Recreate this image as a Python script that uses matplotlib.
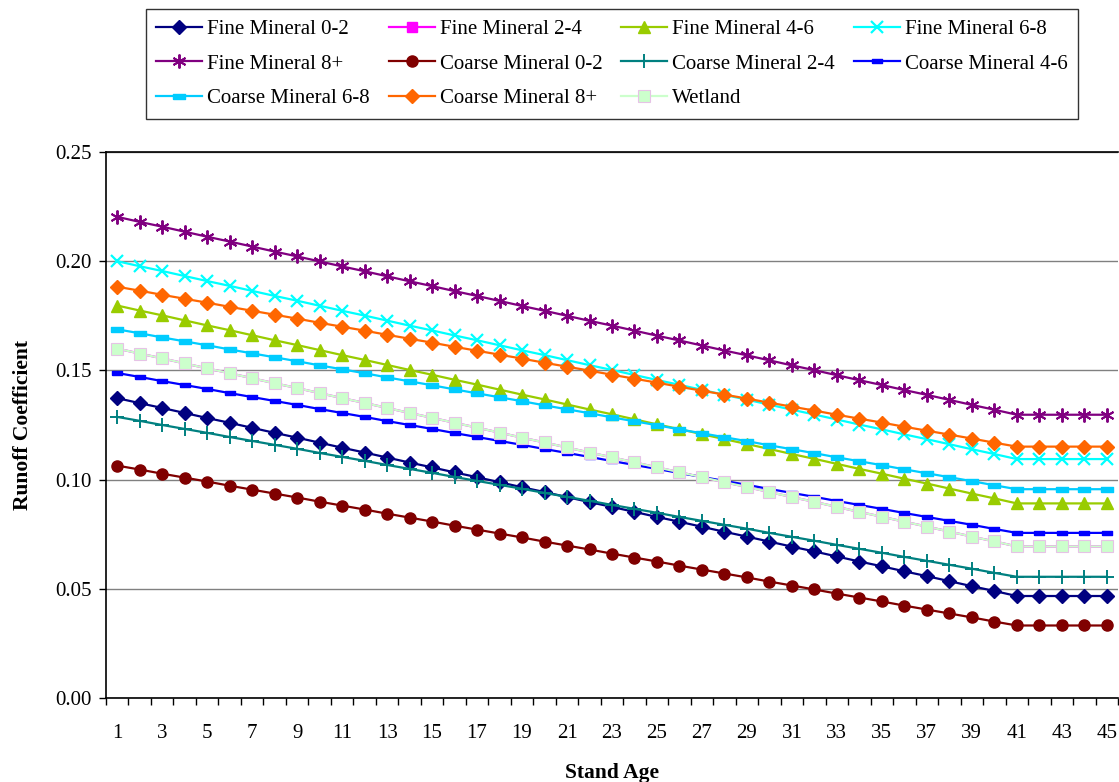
"""
Runoff coefficient by stand age, fine / coarse mineral and wetland soils.
"""

import numpy as np
import matplotlib
matplotlib.use("Agg")
import matplotlib.pyplot as plt


# ==========================================================
# DATA
# ==========================================================

stand_age = list(range(1, 46))

fine_0_2 = [
    0.1373, 0.1350, 0.1328, 0.1305, 0.1282, 0.1260, 0.1237, 0.1214, 0.1192, 0.1169,
    0.1146, 0.1124, 0.1101, 0.1078, 0.1056, 0.1033, 0.1011, 0.0988, 0.0965, 0.0943,
    0.0920, 0.0897, 0.0875, 0.0852, 0.0829, 0.0807, 0.0784, 0.0761, 0.0739, 0.0716,
    0.0693, 0.0671, 0.0648, 0.0625, 0.0603, 0.0580, 0.0558, 0.0535, 0.0512, 0.0490,
    0.0467, 0.0467, 0.0467, 0.0467, 0.0467,
]

fine_2_4 = [
    0.1600, 0.1577, 0.1555, 0.1532, 0.1509, 0.1487, 0.1464, 0.1441, 0.1419, 0.1396,
    0.1373, 0.1351, 0.1328, 0.1305, 0.1283, 0.1260, 0.1238, 0.1215, 0.1192, 0.1170,
    0.1147, 0.1124, 0.1102, 0.1079, 0.1056, 0.1034, 0.1011, 0.0988, 0.0966, 0.0943,
    0.0920, 0.0898, 0.0875, 0.0852, 0.0830, 0.0807, 0.0785, 0.0762, 0.0739, 0.0717,
    0.0694, 0.0694, 0.0694, 0.0694, 0.0694,
]

fine_4_6 = [
    0.1797, 0.1774, 0.1752, 0.1729, 0.1706, 0.1684, 0.1661, 0.1638, 0.1616, 0.1593,
    0.1570, 0.1548, 0.1525, 0.1502, 0.1480, 0.1457, 0.1435, 0.1412, 0.1389, 0.1367,
    0.1344, 0.1321, 0.1299, 0.1276, 0.1253, 0.1231, 0.1208, 0.1185, 0.1163, 0.1140,
    0.1117, 0.1095, 0.1072, 0.1049, 0.1027, 0.1004, 0.0982, 0.0959, 0.0936, 0.0914,
    0.0891, 0.0891, 0.0891, 0.0891, 0.0891,
]

fine_6_8 = [
    0.2000, 0.1977, 0.1955, 0.1932, 0.1909, 0.1887, 0.1864, 0.1841, 0.1819, 0.1796,
    0.1773, 0.1751, 0.1728, 0.1705, 0.1683, 0.1660, 0.1638, 0.1615, 0.1592, 0.1570,
    0.1547, 0.1524, 0.1502, 0.1479, 0.1456, 0.1434, 0.1411, 0.1388, 0.1366, 0.1343,
    0.1320, 0.1298, 0.1275, 0.1252, 0.1230, 0.1207, 0.1185, 0.1162, 0.1139, 0.1117,
    0.1094, 0.1094, 0.1094, 0.1094, 0.1094,
]

fine_8_plus = [
    0.2203, 0.2180, 0.2158, 0.2135, 0.2112, 0.2090, 0.2067, 0.2044, 0.2022, 0.1999,
    0.1976, 0.1954, 0.1931, 0.1908, 0.1886, 0.1863, 0.1841, 0.1818, 0.1795, 0.1773,
    0.1750, 0.1727, 0.1705, 0.1682, 0.1659, 0.1637, 0.1614, 0.1591, 0.1569, 0.1546,
    0.1523, 0.1501, 0.1478, 0.1455, 0.1433, 0.1410, 0.1388, 0.1365, 0.1342, 0.1320,
    0.1297, 0.1297, 0.1297, 0.1297, 0.1297,
]

coarse_0_2 = [
    0.1064, 0.1046, 0.1027, 0.1009, 0.0991, 0.0972, 0.0954, 0.0936, 0.0918, 0.0899,
    0.0881, 0.0863, 0.0844, 0.0826, 0.0808, 0.0789, 0.0771, 0.0753, 0.0735, 0.0716,
    0.0698, 0.0680, 0.0661, 0.0643, 0.0625, 0.0606, 0.0588, 0.0570, 0.0552, 0.0533,
    0.0515, 0.0497, 0.0478, 0.0460, 0.0442, 0.0423, 0.0405, 0.0387, 0.0369, 0.0350,
    0.0332, 0.0332, 0.0332, 0.0332, 0.0332,
]

coarse_2_4 = [
    0.1287, 0.1269, 0.1250, 0.1232, 0.1214, 0.1195, 0.1177, 0.1159, 0.1141, 0.1122,
    0.1104, 0.1086, 0.1067, 0.1049, 0.1031, 0.1012, 0.0994, 0.0976, 0.0958, 0.0939,
    0.0921, 0.0903, 0.0884, 0.0866, 0.0848, 0.0829, 0.0811, 0.0793, 0.0775, 0.0756,
    0.0738, 0.0720, 0.0701, 0.0683, 0.0665, 0.0646, 0.0628, 0.0610, 0.0592, 0.0573,
    0.0555, 0.0555, 0.0555, 0.0555, 0.0555,
]

coarse_4_6 = [
    0.1488, 0.1470, 0.1451, 0.1433, 0.1415, 0.1396, 0.1378, 0.1360, 0.1342, 0.1323,
    0.1305, 0.1287, 0.1268, 0.1250, 0.1232, 0.1213, 0.1195, 0.1177, 0.1159, 0.1140,
    0.1122, 0.1104, 0.1085, 0.1067, 0.1049, 0.1030, 0.1012, 0.0994, 0.0976, 0.0957,
    0.0939, 0.0921, 0.0902, 0.0884, 0.0866, 0.0847, 0.0829, 0.0811, 0.0793, 0.0774,
    0.0756, 0.0756, 0.0756, 0.0756, 0.0756,
]

coarse_6_8 = [
    0.1688, 0.1670, 0.1651, 0.1633, 0.1615, 0.1596, 0.1578, 0.1560, 0.1542, 0.1523,
    0.1505, 0.1487, 0.1468, 0.1450, 0.1432, 0.1413, 0.1395, 0.1377, 0.1359, 0.1340,
    0.1322, 0.1304, 0.1285, 0.1267, 0.1249, 0.1230, 0.1212, 0.1194, 0.1176, 0.1157,
    0.1139, 0.1121, 0.1102, 0.1084, 0.1066, 0.1047, 0.1029, 0.1011, 0.0993, 0.0974,
    0.0956, 0.0956, 0.0956, 0.0956, 0.0956,
]

coarse_8_plus = [
    0.1883, 0.1865, 0.1846, 0.1828, 0.1810, 0.1791, 0.1773, 0.1755, 0.1737, 0.1718,
    0.1700, 0.1682, 0.1663, 0.1645, 0.1627, 0.1608, 0.1590, 0.1572, 0.1554, 0.1535,
    0.1517, 0.1499, 0.1480, 0.1462, 0.1444, 0.1425, 0.1407, 0.1389, 0.1371, 0.1352,
    0.1334, 0.1316, 0.1297, 0.1279, 0.1261, 0.1242, 0.1224, 0.1206, 0.1188, 0.1169,
    0.1151, 0.1151, 0.1151, 0.1151, 0.1151,
]

wetland = [
    0.1600, 0.1577, 0.1555, 0.1532, 0.1509, 0.1487, 0.1464, 0.1441, 0.1419, 0.1396,
    0.1373, 0.1351, 0.1328, 0.1305, 0.1283, 0.1260, 0.1238, 0.1215, 0.1192, 0.1170,
    0.1147, 0.1124, 0.1102, 0.1079, 0.1056, 0.1034, 0.1011, 0.0988, 0.0966, 0.0943,
    0.0920, 0.0898, 0.0875, 0.0852, 0.0830, 0.0807, 0.0785, 0.0762, 0.0739, 0.0717,
    0.0694, 0.0694, 0.0694, 0.0694, 0.0694,
]

y_ticks = [0.00, 0.05, 0.10, 0.15, 0.20, 0.25]


# ==========================================================
# STYLE
# ==========================================================

plt.rcParams["font.family"] = ["Liberation Serif", "DejaVu Serif"]
plt.rcParams["font.size"] = 15

# small horizontal bar, like the Excel "dash" marker
dash = [(-1, -0.4), (1, -0.4), (1, 0.4), (-1, 0.4), (-1, -0.4)]

series = [
    ("Fine Mineral 0-2", fine_0_2, "#000080", "D", 7, {}),
    ("Fine Mineral 2-4", fine_2_4, "#FF00FF", "s", 7, {}),
    ("Fine Mineral 4-6", fine_4_6, "#99CC00", "^", 9, {}),
    ("Fine Mineral 6-8", fine_6_8, "#00FFFF", "x", 9, {"mew": 1.6}),
    ("Fine Mineral 8+", fine_8_plus, "#800080", (6, 2, 0), 10, {"mew": 1.4}),
    ("Coarse Mineral 0-2", coarse_0_2, "#800000", "o", 8, {}),
    ("Coarse Mineral 2-4", coarse_2_4, "#008080", "+", 10, {"mew": 1.4}),
    ("Coarse Mineral 4-6", coarse_4_6, "#0000FF", dash, 7, {}),
    ("Coarse Mineral 6-8", coarse_6_8, "#00CCFF", dash, 9, {}),
    ("Coarse Mineral 8+", coarse_8_plus, "#FF6600", "D", 7, {}),
    ("Wetland", wetland, "#CCFFCC", "s", 9, {"mec": "#E6C3E6", "mew": 0.8}),
]


# ==========================================================
# PLOT
# ==========================================================

fig = plt.figure(figsize=(11.19, 7.82), dpi=100)
ax = fig.add_axes([106 / 1119, 84 / 782, 1012 / 1119, 546 / 782])

lines = []
for label, values, color, marker, size, extra in series:
    line, = ax.plot(
        stand_age,
        values,
        color=color,
        linewidth=1.6,
        marker=marker,
        markersize=size,
        markerfacecolor=extra.pop("mfc", color),
        markeredgecolor=extra.pop("mec", color),
        label=label,
        **extra
    )
    lines.append(line)

ax.set_xlim(0.5, 45.5)
ax.set_ylim(0, 0.25)

# tick marks between categories, labels on odd ages
ax.set_xticks(np.arange(0.5, 46, 1.0))
ax.set_xticklabels([])
ax.set_xticks(stand_age[::2], minor=True)
ax.set_xticklabels([str(a) for a in stand_age[::2]], minor=True)
ax.tick_params(axis="x", which="major", direction="out", length=5, width=1)
ax.tick_params(axis="x", which="minor", length=0, pad=19, labelsize=15)

ax.set_yticks(y_ticks)
ax.set_yticklabels([f"{v:.2f}" for v in y_ticks])
ax.tick_params(axis="y", direction="out", length=5, width=1, pad=5, labelsize=15)

ax.yaxis.grid(True, color="#808080", linewidth=1)
ax.set_axisbelow(True)

ax.spines["right"].set_visible(False)
ax.spines["top"].set_color("black")
for side in ("left", "bottom", "top"):
    ax.spines[side].set_linewidth(1.2)

ax.set_xlabel("Stand Age", fontweight="bold", fontsize=15.5, labelpad=14)
ax.set_ylabel("Runoff Coefficient", fontweight="bold", fontsize=15.5, labelpad=16)

# legend fills row by row, 4 per row
ncol = 4
order = [i for c in range(ncol) for i in range(c, len(lines), ncol)]

leg = fig.legend(
    [lines[i] for i in order],
    [lines[i].get_label() for i in order],
    loc="upper center",
    bbox_to_anchor=(612 / 1119, 1 - 9 / 782),
    ncol=ncol,
    fontsize=15,
    frameon=True,
    fancybox=False,
    edgecolor="black",
    handlelength=2.2,
    handletextpad=0.25,
    columnspacing=0.9,
    labelspacing=0.72,
    borderpad=0.5,
    borderaxespad=0,
)
leg.get_frame().set_linewidth(1.0)

fig.savefig("out.png", dpi=100)
